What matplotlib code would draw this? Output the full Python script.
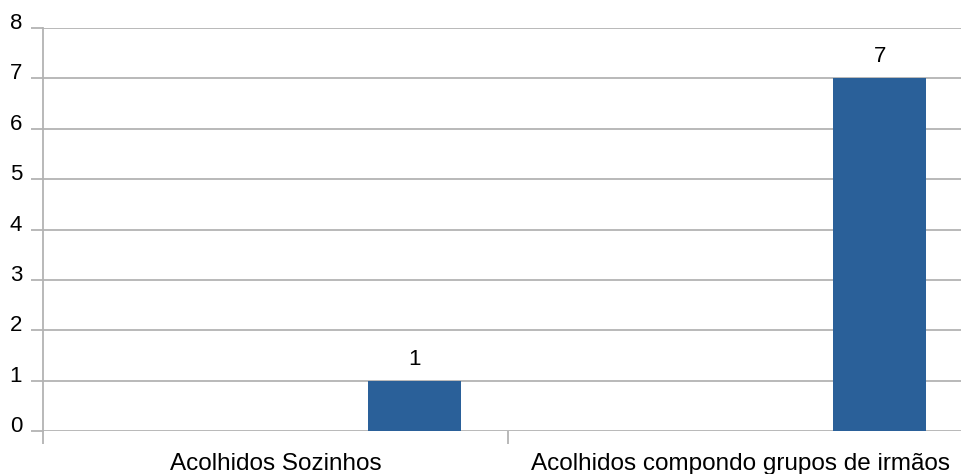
import matplotlib.pyplot as plt
from matplotlib.transforms import ScaledTranslation

categories = ["Acolhidos Sozinhos", "Acolhidos compondo grupos de irmãos"]
values = [1, 7]
y_ticks = [0, 1, 2, 3, 4, 5, 6, 7, 8]

BAR_COLOR = "#2a6099"
GRID_COLOR = "#b3b3b3"

plt.rcParams["font.family"] = ["Liberation Sans", "DejaVu Sans"]

W, H = 962, 474
fig = plt.figure(figsize=(W / 100, H / 100), dpi=100)
# plot area runs past the right edge like in the original screenshot
left, right, bottom, top = 43, 973, 431, 28
ax = fig.add_axes([left / W, 1 - bottom / H, (right - left) / W, (bottom - top) / H])

# each category occupies a unit slot; bar sits in the right part of the slot
slots = list(range(len(categories)))
centers = [s + 0.8 for s in slots]
ax.bar(centers, values, width=0.2, color=BAR_COLOR, zorder=3)

for x, v in zip(centers, values):
    ax.annotate(str(v), (x, v), xytext=(0, 8), textcoords="offset points",
                ha="center", va="bottom", fontsize=16, color="black")

ax.set_xlim(0, len(categories))
ax.set_ylim(0, 8)
ax.set_yticks(y_ticks)
ax.yaxis.grid(True, color=GRID_COLOR, linewidth=1.3, zorder=0)
ax.set_axisbelow(True)

# category boundaries as major ticks, names centred via minor ticks
ax.set_xticks(range(len(categories) + 1))
ax.set_xticklabels([])
ax.set_xticks([s + 0.5 for s in slots], minor=True)
ax.set_xticklabels(categories, minor=True, fontsize=17.5)
ax.tick_params(axis="x", which="major", length=9, width=1.3, color=GRID_COLOR, direction="out")
ax.tick_params(axis="x", which="minor", length=0, pad=16)
ax.tick_params(axis="y", length=9, width=1.3, color=GRID_COLOR, pad=6, labelsize=16)

for lab in ax.get_yticklabels():
    lab.set_transform(lab.get_transform() + ScaledTranslation(0, 5 / 72, fig.dpi_scale_trans))

for s in ["top", "right", "bottom"]:
    ax.spines[s].set_visible(False)
ax.spines["left"].set_color(GRID_COLOR)
ax.spines["left"].set_linewidth(1.3)
ax.spines["left"].set_bounds(0, 8)

fig.savefig("out.png", dpi=100)
